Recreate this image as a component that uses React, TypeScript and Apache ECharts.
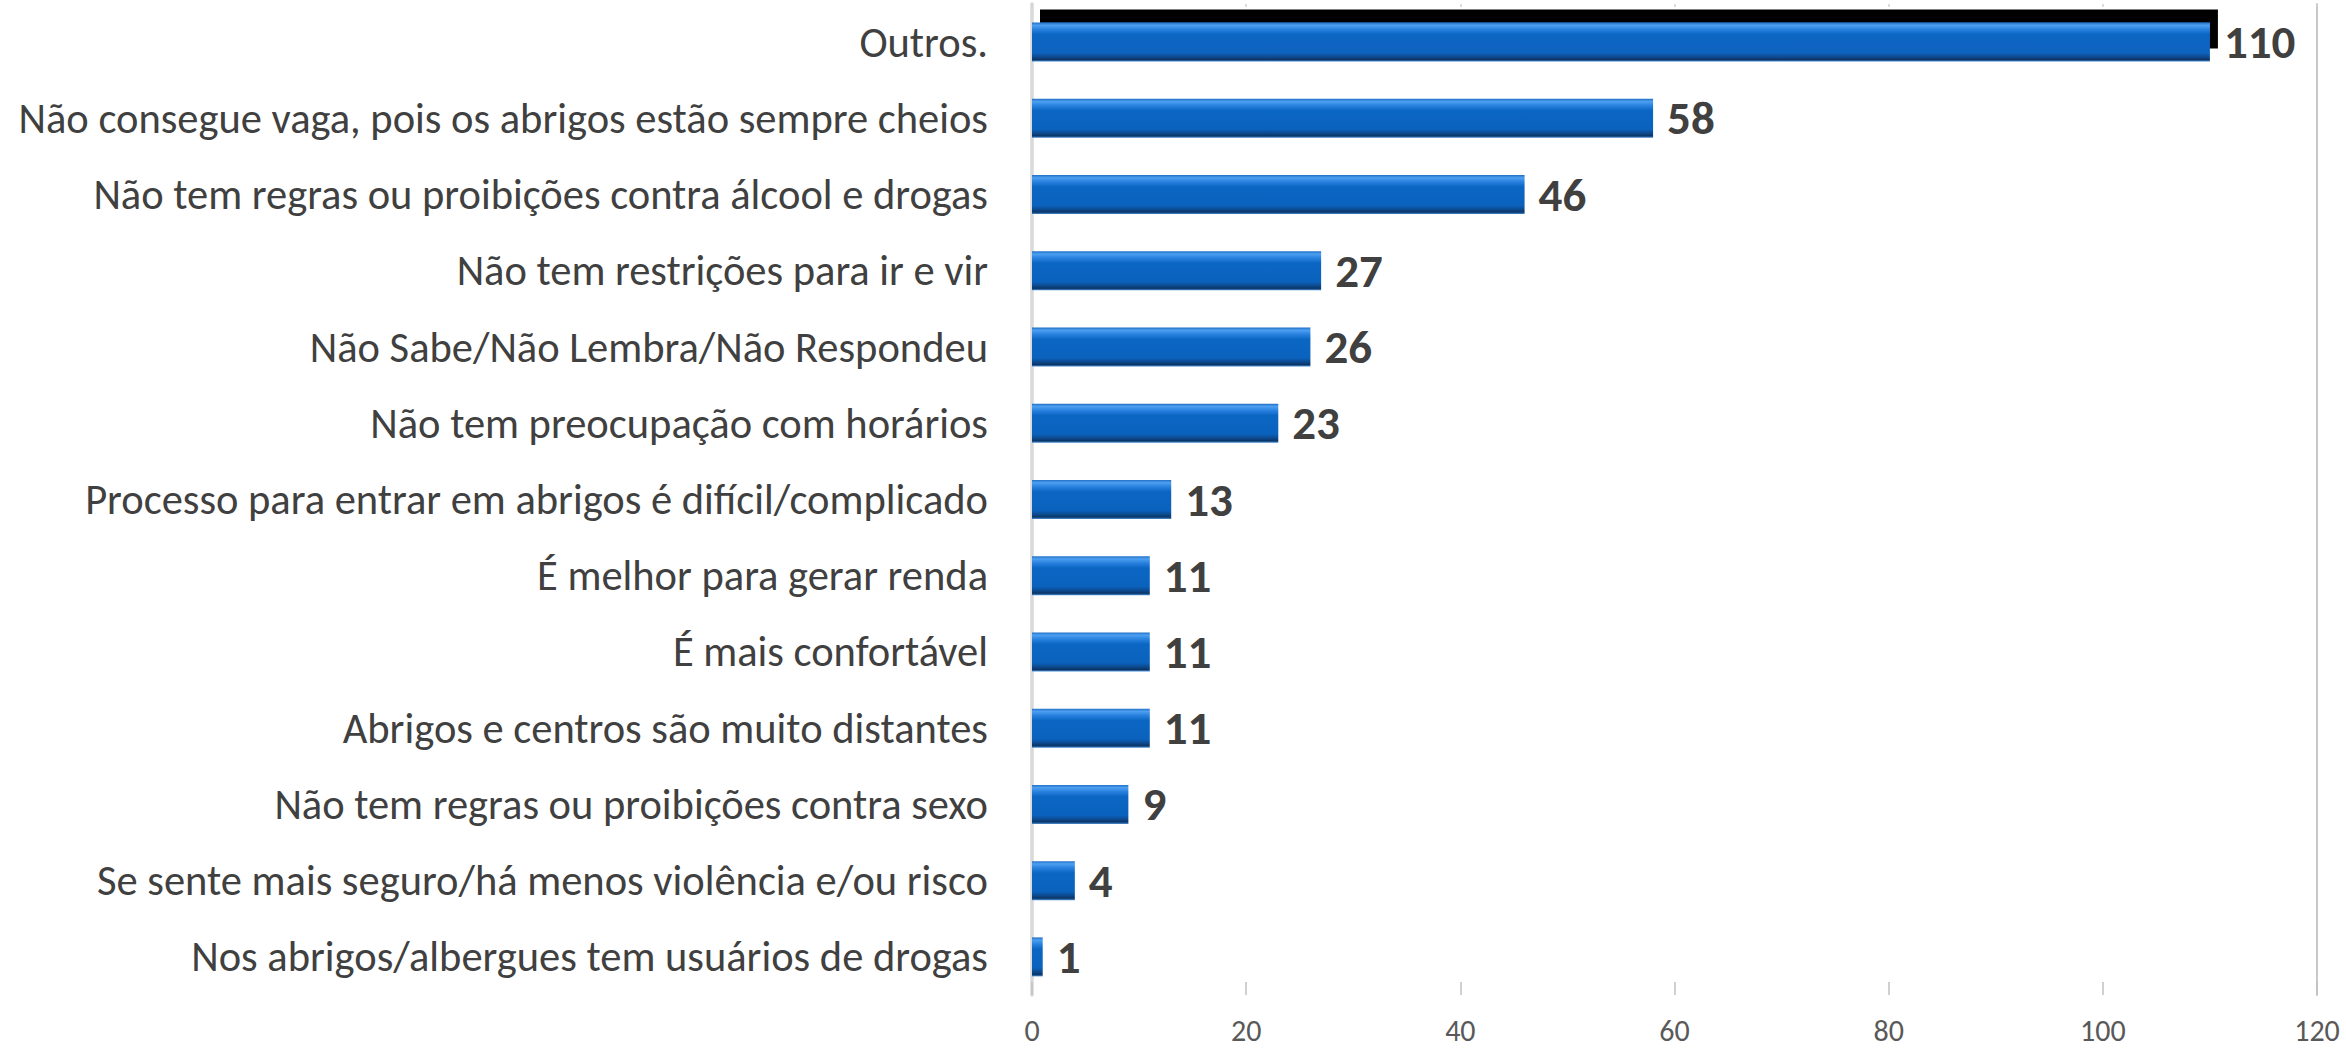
import React, { useEffect, useRef } from "react";
import * as echarts from "echarts";

const categories = [
  "Outros.",
  "Não consegue vaga, pois os abrigos estão sempre cheios",
  "Não tem regras ou proibições contra álcool e drogas",
  "Não tem restrições para ir e vir",
  "Não Sabe/Não Lembra/Não Respondeu",
  "Não tem preocupação com horários",
  "Processo para entrar em abrigos é difícil/complicado",
  "É melhor para gerar renda",
  "É mais confortável",
  "Abrigos e centros são muito distantes",
  "Não tem regras ou proibições contra sexo",
  "Se sente mais seguro/há menos violência e/ou risco",
  "Nos abrigos/albergues tem usuários de drogas",
];
const values = [110, 58, 46, 27, 26, 23, 13, 11, 11, 11, 9, 4, 1];
const xMin = 0;
const xMax = 120;
const xStep = 20;

const FONT = "Carlito, Calibri, Lato, 'Open Sans', sans-serif";

export default function App() {
  const ref = useRef<HTMLDivElement>(null);
  useEffect(() => {
    if (!ref.current) return;
    const chart = echarts.init(ref.current, undefined, { renderer: "svg" });
    const barGradient = new echarts.graphic.LinearGradient(0, 0, 0, 1, [
      { offset: 0, color: "#2270c6" },
      { offset: 0.07, color: "#4d9ff0" },
      { offset: 0.17, color: "#2a82df" },
      { offset: 0.3, color: "#0b66c3" },
      { offset: 0.78, color: "#0a62bd" },
      { offset: 0.88, color: "#0d4a8f" },
      { offset: 0.95, color: "#0a3566" },
      { offset: 1, color: "#4a8fd8" },
    ]);
    chart.setOption({
      animation: false,
      backgroundColor: "#ffffff",
      textStyle: { fontFamily: FONT },
      grid: { left: 1032, right: 29, top: 4, bottom: 53, containLabel: false },
      xAxis: [
        {
          type: "value",
          position: "bottom",
          min: xMin,
          max: xMax,
          interval: xStep,
          axisLine: { show: false },
          axisTick: { show: true, inside: true, length: 13, lineStyle: { color: "#c0c0c0", width: 1.5 } },
          splitLine: { show: false },
          axisLabel: { fontSize: 30, lineHeight: 28, color: "#595959", margin: 21, fontFamily: FONT },
        },
        {
          type: "value",
          position: "top",
          min: xMin,
          max: xMax,
          interval: xStep,
          axisLine: { show: false },
          axisTick: { show: true, inside: true, length: 3, lineStyle: { color: "#d0d0d0", width: 1.5 } },
          splitLine: { show: false },
          axisLabel: { show: false },
        },
      ],
      yAxis: [
        {
          type: "category",
          inverse: true,
          data: categories,
          axisLine: { show: true, onZero: false, lineStyle: { color: "#d9d9d9", width: 3.5 } },
          axisTick: { show: false },
          axisLabel: { fontSize: 42.5, color: "#404040", margin: 44, fontFamily: FONT },
        },
        {
          type: "category",
          inverse: true,
          position: "right",
          data: categories,
          axisLine: { show: true, onZero: false, lineStyle: { color: "#c8c8c8", width: 2 } },
          axisTick: { show: false },
          axisLabel: { show: false },
        },
      ],
      series: [
        {
          type: "bar",
          xAxisIndex: 0,
          yAxisIndex: 0,
          barWidth: 39,
          data: values.map((v, i) =>
            i === 0
              ? {
                  value: v,
                  itemStyle: {
                    shadowColor: "#000000",
                    shadowBlur: 0,
                    shadowOffsetX: 8,
                    shadowOffsetY: -13,
                  },
                }
              : v
          ),
          itemStyle: { color: barGradient },
          label: {
            show: true,
            position: "right",
            distance: 14,
            fontSize: 47,
            fontWeight: "bold",
            color: "#404040",
            fontFamily: FONT,
          },
        },
      ],
    });
    return () => chart.dispose();
  }, []);
  return (
    <div
      ref={ref}
      style={{ position: "fixed", left: 0, top: 0, width: 2346, height: 1048, background: "#fff" }}
    />
  );
}
